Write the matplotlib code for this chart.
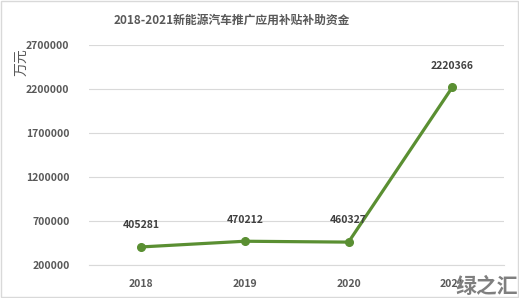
import matplotlib
matplotlib.use("Agg")
import matplotlib.pyplot as plt

plt.rcParams['font.family'] = ['Noto Sans CJK SC', 'DejaVu Sans']

years = ['2018', '2019', '2020', '2021']
values = [405281, 470212, 460327, 2220366]
yticks = [200000, 700000, 1200000, 1700000, 2200000, 2700000]

fig = plt.figure(figsize=(5.19, 2.98), dpi=100)
ax = fig.add_axes([0.1715, 0.1107, 0.8, 0.738])
gray = '#595959'
green = '#5a8f32'
x = range(len(years))
ax.plot(x, values, color=green, lw=2.3, marker='o', ms=5.5, zorder=3)
for xi, v in zip(x, values):
    ax.annotate(f'{v}', (xi, v), xytext=(0, 12), textcoords='offset points',
                ha='center', va='bottom', fontsize=7.5, fontweight='bold', color='#404040')
ax.set_xlim(-0.5, 3.5)
ax.set_ylim(200000, 2700000)
ax.set_yticks(yticks)
ax.set_yticklabels([str(t) for t in yticks])
ax.set_xticks(list(x))
ax.set_xticklabels(years)
ax.grid(axis='y', color='#d9d9d9', lw=0.8)
ax.set_axisbelow(True)
for s in ['top', 'right', 'left']:
    ax.spines[s].set_visible(False)
ax.spines['bottom'].set_color('#d9d9d9')
ax.tick_params(length=0, colors=gray, labelsize=7.5)
for lab in ax.get_xticklabels() + ax.get_yticklabels():
    lab.set_fontweight('bold')
ax.tick_params(axis='x', pad=10)
ax.tick_params(axis='y', pad=14)
fig.text(0.447, 0.933, '2018-2021新能源汽车推广应用补贴补助资金', ha='center', va='center',
         fontsize=8.5, fontweight='bold', color=gray)
fig.text(0.042, 0.79, '万元', rotation=90, ha='center', va='center', fontsize=10, color=gray)
fig.text(0.998, 0.005, '绿之汇', ha='right', va='bottom', fontsize=15, fontweight='bold', color='#7f7f7f')
fig.patches.append(plt.Rectangle((0.002, 0.003), 0.996, 0.994, transform=fig.transFigure,
                                 fill=False, edgecolor='#d9d9d9', lw=1))
fig.savefig('out.png', dpi=100)
